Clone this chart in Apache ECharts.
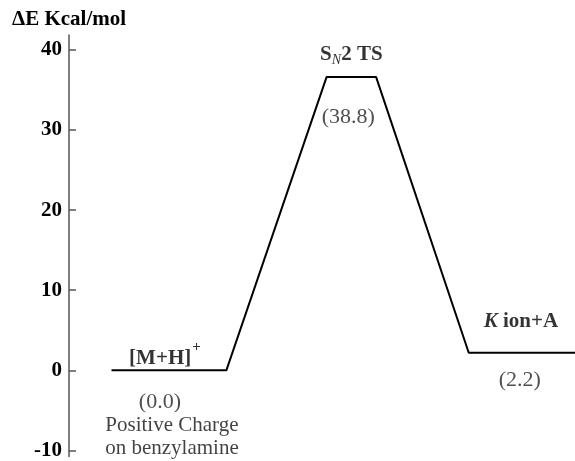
<!DOCTYPE html>
<html>
<head>
<meta charset="utf-8">
<style>html,body{margin:0;padding:0;background:#fff}#c{width:575px;height:461px}</style>
<script src="https://cdn.jsdelivr.net/npm/echarts@6/dist/echarts.min.js"></script>
</head>
<body>
<div id="c"></div>
<script>
// Reaction path (reaction coordinate, plotted energy)
const pathX = [8.4, 31.1, 50.9, 60.7, 79.0, 100];
const pathE = [0, 0, 36.6, 36.6, 2.2, 2.2];
// Level labels
const levelNames = ['{b|[M+H]}{sup|+}', '{b|S}{sub|N}{b|2 TS}', '{bi|K}{b| ion+A}'];
const levelValues = ['(0.0)', '(38.8)', '(2.2)'];
const levelNotes = ['Positive Charge\non benzylamine', '', ''];
// Axis
const yTicks = [-10, 0, 10, 20, 30, 40];
const yTitle = 'ΔE Kcal/mol';
const yMin = -10.74, yMax = 41.85;

const FF = '"Liberation Serif", "Times New Roman", serif';
const richStyles = {
  b: {fontFamily: FF, fontWeight: 'bold', fontSize: 21, color: '#000'},
  bi: {fontFamily: FF, fontWeight: 'bold', fontStyle: 'italic', fontSize: 21, color: '#000'},
  sup: {fontFamily: FF, fontWeight: 'bold', fontSize: 15, color: '#000', padding: [0, 0, 22, 1]},
  sub: {fontFamily: FF, fontStyle: 'italic', fontSize: 14, color: '#000', padding: [11, 0, 0, 0]}
};

const mids = levelNames.map((_, i) => [(pathX[2 * i] + pathX[2 * i + 1]) / 2, pathE[2 * i]]);

function labelSeries(texts, offsets, style) {
  return {
    type: 'scatter',
    silent: true,
    symbol: 'circle',
    symbolSize: 1,
    itemStyle: {color: 'rgba(0,0,0,0)'},
    data: texts.map((t, i) => ({
      value: mids[i],
      label: {show: t !== '', formatter: t, offset: offsets[i]}
    })),
    label: Object.assign({position: 'inside', align: 'center', verticalAlign: 'middle'}, style),
    z: 5
  };
}

const chart = echarts.init(document.getElementById('c'), null, {renderer: 'canvas'});
chart.setOption({
  animation: false,
  backgroundColor: '#fff',
  grid: {left: 69, right: 0, top: 35, bottom: 0, containLabel: false},
  xAxis: {type: 'value', min: 0, max: 100, show: false},
  yAxis: {
    type: 'value', min: yMin, max: yMax,
    name: yTitle, nameLocation: 'end', nameGap: 5,
    nameTextStyle: {fontFamily: FF, fontWeight: 'bold', fontSize: 21, color: '#000'},
    axisLine: {show: true, lineStyle: {color: '#555', width: 1.5}},
    axisTick: {show: true, inside: true, length: 7, customValues: yTicks, lineStyle: {color: '#555', width: 1.5}},
    axisLabel: {customValues: yTicks, margin: 7, fontFamily: FF, fontWeight: 'bold', fontSize: 21, color: '#000'},
    splitLine: {show: false}
  },
  series: [
    {
      type: 'line',
      silent: true,
      symbol: 'none',
      data: pathX.map((x, i) => [x, pathE[i]]),
      lineStyle: {color: '#000', width: 2},
      z: 3
    },
    labelSeries(levelNames, [[-4, -12], [0, -22], [-1, -31]], {rich: richStyles}),
    labelSeries(levelValues, [[-9, 32], [-3, 40], [-2, 27]], {fontFamily: FF, fontSize: 22, color: '#222'}),
    labelSeries(levelNotes, [[3, 67]], {fontFamily: FF, fontSize: 21, color: '#111', lineHeight: 23})
  ]
});
</script>
</body>
</html>
